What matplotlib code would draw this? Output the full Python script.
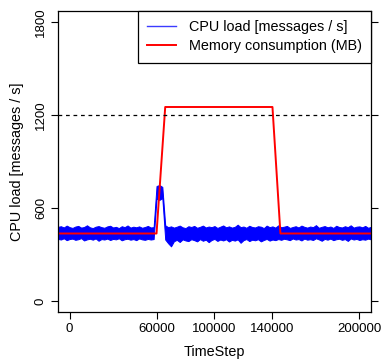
import numpy as np
import matplotlib
matplotlib.use("Agg")
import matplotlib.pyplot as plt

plt.rcParams["font.family"] = ["Liberation Sans", "DejaVu Sans"]

# CPU load sampled every 2000 time steps (upper / lower edge of the noisy band)
cpu_time = np.arange(-8000, 208001, 2000)
cpu_upper = [
    478, 482, 474, 486, 476, 471, 480, 484, 473, 477, 488, 475, 470, 479, 483, 476, 472,
    481, 485, 474, 478, 470, 482, 476, 487, 473, 479, 475, 481, 472, 477, 484, 474, 476,
    742, 748, 736,
    488, 476, 481, 473, 479, 486, 475, 470, 482, 477,
    484, 472, 478, 486, 474, 480, 476, 483, 471, 479,
    487, 475, 481, 473, 478, 492, 476, 480, 472, 485,
    477, 474, 482, 479, 470, 486, 476, 481, 473, 488,
    475, 479, 484, 471, 477, 482, 474, 486, 478, 473,
    480, 476, 489, 472, 478, 483, 475, 480, 471, 485,
    477, 474, 482, 476, 488, 473, 479, 481, 475, 484,
    472, 478,
]
cpu_lower = [
    400, 396, 404, 392, 399, 402, 394, 398, 405, 390, 397, 401, 395, 403, 388, 399, 396,
    402, 393, 400, 397, 404, 391, 398, 401, 395, 399, 392, 403, 397, 394, 400, 396, 399,
    660, 652, 664,
    396, 372, 352, 385, 394, 380, 397, 390, 386, 398,
    392, 384, 399, 388, 395, 379, 393, 400, 387, 396,
    390, 398, 383, 394, 389, 397, 375, 392, 399, 386,
    395, 391, 398, 384, 393, 400, 389, 396, 392, 399,
    394, 401, 397, 392, 403, 396, 399, 390, 402, 395,
    398, 393, 404, 397, 388, 400, 395, 402, 392, 398,
    401, 394, 399, 387, 403, 396, 400, 393, 398, 395,
    402, 397,
]

# Memory consumption (MB)
mem_time = [-8000, 60000, 66000, 140000, 145500, 208000]
mem_value = [435, 435, 1252, 1252, 435, 435]

threshold = 1200
x_ticks = [0, 60000, 100000, 140000, 200000]
y_ticks = [0, 600, 1200, 1800]

fig = plt.figure(figsize=(3.82, 3.63), dpi=100)
ax = fig.add_axes([0.1518, 0.1405, 0.8194, 0.8292])

ax.fill_between(cpu_time, cpu_lower, cpu_upper, color="#0000ff",
                linewidth=0.7, edgecolor="#0000ff")
ax.plot([], [], color="#3b3bff", lw=1, label="CPU load [messages / s]")
ax.plot(mem_time, mem_value, color="#ff0000", lw=1.4, label="Memory consumption (MB)")
ax.axhline(threshold, color="black", lw=0.9, linestyle=(0, (3, 3)))

ax.set_xlim(-8000, 208000)
ax.set_ylim(-72, 1872)
ax.set_xticks(x_ticks)
ax.set_xticklabels([str(t) for t in x_ticks], fontsize=9.5)
ax.set_yticks(y_ticks)
ax.set_yticklabels([str(t) for t in y_ticks], fontsize=9.5, rotation=90, va="center")
ax.tick_params(axis="both", direction="out", length=5, width=0.8, pad=3)
ax.tick_params(axis="y", right=True, labelright=False)
for s in ax.spines.values():
    s.set_linewidth(0.9)

ax.set_xlabel("TimeStep", fontsize=10.4, labelpad=7)
ax.set_ylabel("CPU load [messages / s]", fontsize=10.4, labelpad=8)

leg = ax.legend(loc="upper right", fontsize=10.4, fancybox=False, framealpha=1,
                edgecolor="black", borderaxespad=0, handlelength=1.95,
                handletextpad=0.9, labelspacing=0.35, borderpad=0.65)
leg.get_frame().set_linewidth(0.9)

fig.savefig("out.png", dpi=100)
